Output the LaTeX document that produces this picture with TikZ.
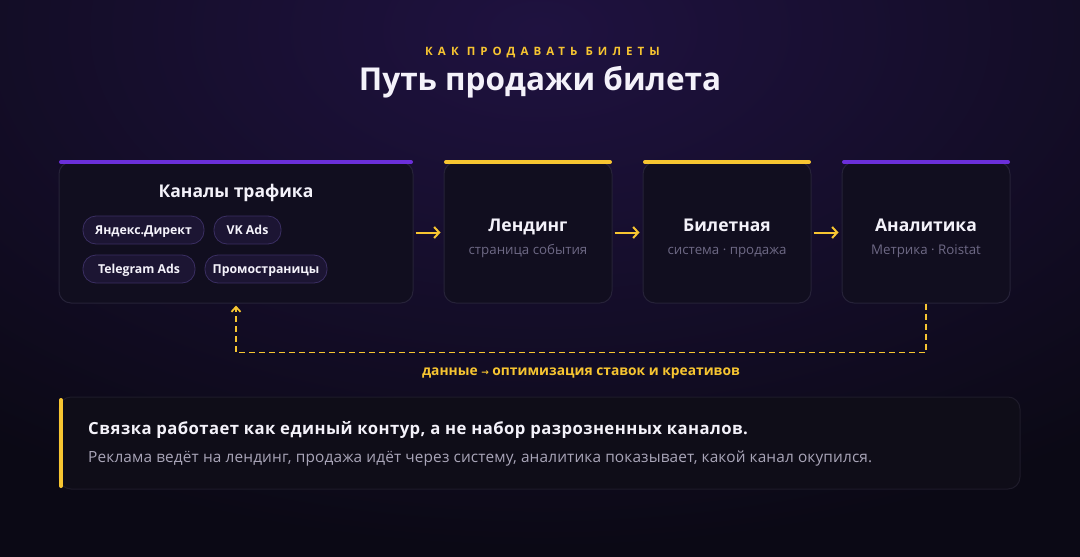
\documentclass[tikz,border=0pt]{standalone}
\usepackage{fontspec}
\setmainfont{Open Sans}
\newfontfamily\symfont{DejaVu Sans}
\usetikzlibrary{arrows.meta,positioning}
\definecolor{bgc}{HTML}{0B0915}
\definecolor{glow}{HTML}{1F1240}
\definecolor{boxfill}{HTML}{110E1F}
\definecolor{boxline}{HTML}{262238}
\definecolor{chipfill}{HTML}{1C1533}
\definecolor{chipline}{HTML}{3A2E62}
\definecolor{ylw}{HTML}{F7C531}
\definecolor{prp}{HTML}{6B2FD9}
\definecolor{wht}{HTML}{F4F2FA}
\definecolor{gry}{HTML}{6E6985}
\definecolor{gry2}{HTML}{A9A5B8}
\definecolor{notefill}{HTML}{0F0D18}
\definecolor{noteline}{HTML}{1E1B2A}
\tikzset{
  card/.style={draw=boxline, line width=1pt, fill=boxfill, rounded corners=12pt, minimum height=141pt, inner sep=0pt},
  chip/.style={draw=chipline, line width=0.8pt, fill=chipfill, rounded corners=13pt, minimum height=28pt, inner sep=0pt},
  chiptxt/.style={text=wht, font=\bfseries\fontsize{12.3}{14}\selectfont, inner sep=0pt, anchor=base},
  ctitle/.style={text=wht, font=\bfseries\fontsize{17.5}{20}\selectfont, inner sep=0pt, anchor=base},
  csub/.style={text=gry, font=\fontsize{13.3}{15}\selectfont, inner sep=0pt, anchor=base},
  topbar/.style={line width=4pt, line cap=round},
  flow/.style={draw=ylw, line width=2pt, -{Straight Barb[length=5pt,width=11pt]}},
  loopline/.style={draw=ylw, line width=1.8pt, dash pattern=on 6pt off 4pt, -{Straight Barb[length=5pt,width=9pt]}},
}
\begin{document}
\begin{tikzpicture}[x=1pt,y=-1pt]
\useasboundingbox (0,0) rectangle (1080,557);
\fill[bgc] (0,0) rectangle (1080,557);
\begin{scope}
\clip (0,0) rectangle (1080,557);
\shade[inner color=glow, outer color=bgc] (540,30) ellipse [x radius=900, y radius=520];
\end{scope}
% header
\node[text=ylw, font=\bfseries\fontsize{11.5}{13}\selectfont\addfontfeatures{LetterSpace=44}, inner sep=0pt, anchor=base] (kicker) at (542.5,55) {КАК ПРОДАВАТЬ БИЛЕТЫ};
\node[text=wht, font=\bfseries\fontsize{31.5}{36}\selectfont, inner sep=0pt, anchor=base] (title) at (540,90) {Путь продажи билета};
% cards
\node[card, minimum width=354pt] (b1) at (236,232.5) {};
\node[card, minimum width=168pt] (b2) at (528,232.5) {};
\node[card, minimum width=168pt] (b3) at (727,232.5) {};
\node[card, minimum width=168pt] (b4) at (926,232.5) {};
\draw[topbar, draw=prp] (61,162) -- (411,162);
\draw[topbar, draw=ylw] (446,162) -- (610,162);
\draw[topbar, draw=ylw] (645,162) -- (809,162);
\draw[topbar, draw=prp] (844,162) -- (1008,162);
% card 1 content
\node[ctitle] (t1) at (236,197) {Каналы трафика};
\node[chip, minimum width=121pt] (c1) at (143.5,230) {};
\node[chip, minimum width=67pt] (c2) at (247.5,230) {};
\node[chip, minimum width=112pt] (c3) at (139,269) {};
\node[chip, minimum width=122pt] (c4) at (266,269) {};
\node[chiptxt] (c1t) at (143.5,234.5) {Яндекс.Директ};
\node[chiptxt] (c2t) at (247.5,234.5) {VK Ads};
\node[chiptxt] (c3t) at (139,273.5) {Telegram Ads};
\node[chiptxt] (c4t) at (266,273.5) {Промостраницы};
% other cards
\node[ctitle] (t2) at (528,231) {Лендинг};
\node[csub] (s2) at (528,254) {страница события};
\node[ctitle] (t3) at (727,231) {Билетная};
\node[csub] (s3) at (727,254) {система · продажа};
\node[ctitle] (t4) at (926,231) {Аналитика};
\node[csub] (s4) at (926,254) {Метрика · Roistat};
% flow arrows
\draw[flow, shorten <=2pt, shorten >=3pt] (b1.east) -- (b2.west);
\draw[flow, shorten <=2pt, shorten >=3pt] (b2.east) -- (b3.west);
\draw[flow, shorten <=2pt, shorten >=3pt] (b3.east) -- (b4.west);
% feedback loop
\draw[loopline, shorten >=2pt] (b4.south) -- ++(0,49) -| (b1.south);
\node[text=ylw, font=\bfseries\fontsize{13.8}{15}\selectfont, inner sep=0pt, anchor=base] (lbl) at (581,375) {данные {\symfont\fontsize{9}{10}\selectfont →} оптимизация ставок и креативов};
% note
\node[draw=noteline, line width=1pt, fill=notefill, rounded corners=12pt, minimum width=961pt, minimum height=92pt] (note) at (539.5,443) {};
\draw[line width=4pt, draw=ylw, line cap=round] (61,400) -- (61,486);
\node[anchor=base west, text=wht, font=\bfseries\fontsize{16.7}{19}\selectfont\addfontfeatures{LetterSpace=2.6}, inner sep=0pt] (n1) at (88,434) {Связка работает как единый контур, а не набор разрозненных каналов.};
\node[anchor=base west, text=gry2, font=\fontsize{15.4}{18}\selectfont\addfontfeatures{LetterSpace=0.9}, inner sep=0pt] (n2) at (88,462) {Реклама ведёт на лендинг, продажа идёт через систему, аналитика показывает, какой канал окупился.};
\end{tikzpicture}
\end{document}
